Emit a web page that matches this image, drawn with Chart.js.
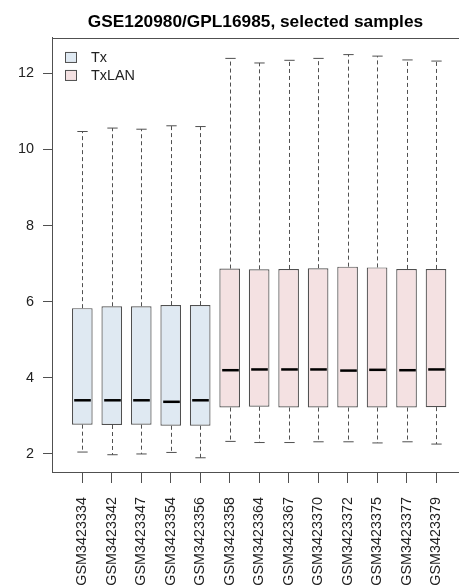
<!DOCTYPE html>
<html>
<head>
<meta charset="utf-8">
<script src="https://cdn.jsdelivr.net/npm/chart.js@4"></script>
<style>
  html, body { margin: 0; padding: 0; background: #fff; }
  #box { width: 459px; height: 587px; }
</style>
</head>
<body>
<div id="box"><canvas id="chart"></canvas></div>
<script>
const samples = ['GSM3423334', 'GSM3423342', 'GSM3423347', 'GSM3423354', 'GSM3423356',
  'GSM3423358', 'GSM3423364', 'GSM3423367', 'GSM3423370', 'GSM3423372',
  'GSM3423375', 'GSM3423377', 'GSM3423379']
const groups = ['Tx', 'Tx', 'Tx', 'Tx', 'Tx',
  'TxLAN', 'TxLAN', 'TxLAN', 'TxLAN', 'TxLAN', 'TxLAN', 'TxLAN', 'TxLAN']
const upperWhisker = [10.47, 10.56, 10.53, 10.62, 10.60, 12.39, 12.27, 12.34, 12.39, 12.49, 12.45, 12.35, 12.32]
const q3 = [5.83, 5.88, 5.88, 5.91, 5.91, 6.87, 6.85, 6.86, 6.88, 6.92, 6.90, 6.86, 6.86]
const median = [3.41, 3.41, 3.41, 3.37, 3.41, 4.20, 4.22, 4.22, 4.22, 4.19, 4.21, 4.20, 4.22]
const q1 = [2.77, 2.76, 2.77, 2.74, 2.74, 3.22, 3.24, 3.22, 3.22, 3.22, 3.22, 3.22, 3.23]
const lowerWhisker = [2.05, 1.98, 2.00, 2.04, 1.90, 2.33, 2.30, 2.30, 2.32, 2.32, 2.29, 2.32, 2.26]
const yTicks = [2, 4, 6, 8, 10, 12]
const legendNames = ['Tx', 'TxLAN']

const groupColors = { 'Tx': '#dfe9f2', 'TxLAN': '#f4e1e2' }
const lineColor = '#505050'
const font = 'Liberation Sans, Arial, sans-serif'

// whiskers, caps, medians, top frame line and legend, all placed with the chart scales
const boxExtras = {
  id: 'boxExtras',
  afterDatasetsDraw(chart) {
    const ctx = chart.ctx
    const xs = chart.scales.x
    const ys = chart.scales.y
    const meta = chart.getDatasetMeta(0)
    ctx.save()
    for (let i = 0; i < samples.length; i++) {
      const x = Math.round(xs.getPixelForValue(i + 1)) + 0.5
      const half = meta.data[i].width / 2
      const yUp = ys.getPixelForValue(upperWhisker[i])
      const yQ3 = ys.getPixelForValue(q3[i])
      const yQ1 = ys.getPixelForValue(q1[i])
      const yLo = ys.getPixelForValue(lowerWhisker[i])
      const yMed = ys.getPixelForValue(median[i])

      ctx.strokeStyle = lineColor
      ctx.lineWidth = 1
      ctx.setLineDash([4, 3])
      ctx.beginPath()
      ctx.moveTo(x, yQ3); ctx.lineTo(x, yUp)
      ctx.moveTo(x, yQ1); ctx.lineTo(x, yLo)
      ctx.stroke()
      ctx.setLineDash([])
      ctx.beginPath()
      ctx.moveTo(x - half / 2, yUp); ctx.lineTo(x + half / 2, yUp)
      ctx.moveTo(x - half / 2, yLo); ctx.lineTo(x + half / 2, yLo)
      ctx.stroke()

      ctx.strokeStyle = '#000'
      ctx.lineWidth = 2.5
      ctx.beginPath()
      ctx.moveTo(x - half + 2, yMed); ctx.lineTo(x + half - 2, yMed)
      ctx.stroke()
    }

    const area = chart.chartArea
    ctx.strokeStyle = lineColor
    ctx.lineWidth = 1
    ctx.beginPath()
    ctx.moveTo(area.left, Math.round(area.top) + 0.5)
    ctx.lineTo(area.right, Math.round(area.top) + 0.5)
    ctx.stroke()

    ctx.font = '14.4px ' + font
    ctx.textBaseline = 'middle'
    ctx.textAlign = 'left'
    legendNames.forEach((name, k) => {
      const bx = area.left + 13.5
      const by = area.top + 14.5 + k * 18
      ctx.fillStyle = groupColors[name]
      ctx.fillRect(bx, by, 11, 10)
      ctx.strokeStyle = lineColor
      ctx.strokeRect(bx, by, 11, 10)
      ctx.fillStyle = '#222'
      ctx.fillText(name, area.left + 39, by + 5.5)
    })
    ctx.restore()
  }
}

window.onload = () => {
  const ctx = document.getElementById('chart').getContext('2d')
  new Chart(ctx, {
    type: 'bar',
    data: {
      datasets: [{
        data: samples.map((s, i) => ({ x: i + 1, y: [q1[i], q3[i]] })),
        backgroundColor: groups.map(g => groupColors[g]),
        borderColor: lineColor,
        borderWidth: 1.2,
        borderSkipped: false,
        barPercentage: 0.7,
        categoryPercentage: 1
      }]
    },
    options: {
      responsive: true,
      maintainAspectRatio: false,
      animation: false,
      layout: { padding: 0 },
      plugins: {
        legend: { display: false },
        tooltip: { enabled: false },
        title: {
          display: true,
          fullSize: false,
          text: 'GSE120980/GPL16985, selected samples',
          color: '#000',
          font: { family: font, size: 17.3, weight: 'bold' },
          padding: { top: 12, bottom: 5.2 }
        }
      },
      scales: {
        x: {
          type: 'linear',
          offset: false,
          min: -0.028,
          max: 13.78,
          afterBuildTicks: scale => { scale.ticks = samples.map((s, i) => ({ value: i + 1 })) },
          afterFit: scale => {
            scale.height = 114
            scale.paddingLeft = 0
            scale.paddingRight = 0
          },
          ticks: {
            autoSkip: false,
            minRotation: 90,
            maxRotation: 90,
            padding: 14,
            color: '#222',
            font: { family: font, size: 14.4 },
            callback: v => samples[v - 1]
          },
          grid: { offset: false, drawOnChartArea: false, tickLength: 10, color: lineColor },
          border: { color: lineColor }
        },
        y: {
          min: 1.5,
          max: 12.927,
          afterBuildTicks: scale => { scale.ticks = yTicks.map(v => ({ value: v })) },
          afterFit: scale => { scale.width = 52 },
          ticks: {
            padding: 9,
            color: '#222',
            font: { family: font, size: 14.4 }
          },
          grid: { drawOnChartArea: false, tickLength: 9, color: lineColor },
          border: { color: lineColor }
        }
      }
    },
    plugins: [boxExtras]
  })
}
</script>
</body>
</html>
